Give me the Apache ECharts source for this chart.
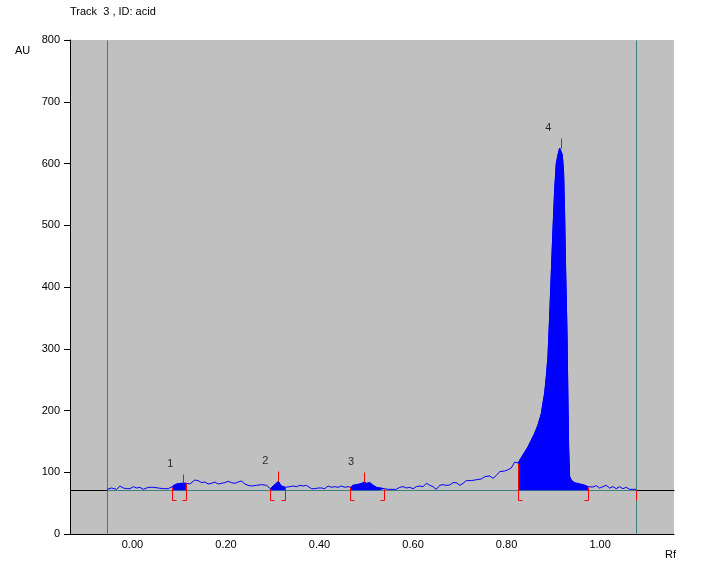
<!DOCTYPE html>
<html>
<head>
<meta charset="utf-8">
<script src="https://cdn.jsdelivr.net/npm/echarts@6/dist/echarts.min.js"></script>
<style>
html,body{margin:0;padding:0;background:#fff;}
#chart{width:704px;height:571px;}
</style>
</head>
<body>
<div id="chart"></div>
<script>
// ---- data ----
const titleText = 'Track  3 , ID: acid';
const xTickValues = [0, 0.2, 0.4, 0.6, 0.8, 1.0];
const yMin = 0, yMax = 800, yInterval = 100;
const xMin = -0.1335, xMax = 1.158;

const rf = [
  -0.054, -0.0516, -0.045, -0.041, -0.034, -0.0267, -0.0196, -0.0125, -0.0053, 0.0018,
  0.0089, 0.016, 0.0231, 0.0338, 0.0445, 0.0552, 0.0659, 0.0766,
  0.0851, 0.0908, 0.0979, 0.1051, 0.1086, 0.1143,
  0.1229, 0.1335, 0.1407, 0.1478, 0.1549, 0.1620, 0.1692, 0.1763, 0.1834, 0.1905,
  0.1976, 0.2048, 0.2119, 0.2190, 0.2261, 0.2333, 0.2404, 0.2475, 0.2546, 0.2653,
  0.2760, 0.2867,
  0.295, 0.301, 0.3066, 0.312, 0.3152, 0.3187, 0.3223, 0.3266,
  0.3294, 0.3365, 0.3437, 0.3508, 0.3579, 0.3650, 0.3722, 0.3757, 0.3828, 0.3900,
  0.3971, 0.4042, 0.4113, 0.4184, 0.4256, 0.4327, 0.4398, 0.4469, 0.4541, 0.4612,
  0.4662, 0.4719, 0.4790, 0.4861, 0.4911, 0.4954, 0.5004, 0.5075, 0.5146, 0.5217, 0.5288, 0.5381,
  0.5466, 0.5573, 0.5644, 0.5716, 0.5787, 0.5858, 0.5929, 0.6001, 0.6072, 0.6143,
  0.6214, 0.6286, 0.6357, 0.6428, 0.6499, 0.6570, 0.6642, 0.6713, 0.6784, 0.6855,
  0.6927, 0.6998, 0.7069, 0.7140, 0.7247, 0.7318, 0.7390, 0.7461, 0.7532, 0.7639,
  0.7710, 0.7781, 0.7853, 0.7959, 0.8031, 0.8102, 0.8173, 0.8209,
  0.8244, 0.8351, 0.8458, 0.8529, 0.8600, 0.8672, 0.8743, 0.8778, 0.8814, 0.8850,
  0.8885, 0.8921, 0.8956, 0.8992, 0.9028, 0.9063, 0.9099, 0.9135, 0.917, 0.9192,
  0.9220, 0.9241, 0.9263, 0.9291, 0.9313, 0.9327, 0.9348, 0.9384, 0.9455, 0.9562,
  0.9669, 0.974,
  0.9776, 0.9847, 0.9918, 0.9989, 1.0060, 1.0132, 1.0203, 1.0274, 1.0345, 1.0417,
  1.0488, 1.0559, 1.0630, 1.0701, 1.077
];
const au = [
  72.3, 74.5, 74.5, 72.3, 72.3, 77.7, 74.5, 73.4, 73.4, 76.7,
  74.5, 75.6, 72.3, 75.6, 75.6, 74.5, 73.4, 73.4,
  76.7, 79.9, 81.5, 82.1, 83.1, 82.1,
  81.0, 87.4, 86.4, 83.1, 84.2, 81.0, 82.1, 84.2, 81.0, 82.1,
  83.1, 85.3, 83.1, 82.1, 84.2, 85.8, 81.0, 78.8, 77.7, 78.8,
  79.9, 78.8,
  73.4, 77.7, 81.0, 85.3, 81.0, 77.7, 76.7, 75.6,
  75.6, 76.7, 77.7, 76.7, 78.8, 77.7, 78.8, 75.6, 73.4, 73.4,
  74.5, 74.5, 73.4, 77.7, 75.6, 76.7, 75.6, 77.7, 75.6, 76.7,
  75.6, 78.8, 79.9, 81.0, 82.1, 84.2, 82.1, 83.1, 78.8, 75.6, 74.5, 73.4,
  72.3, 72.3, 72.3, 75.6, 76.7, 74.5, 75.6, 73.4, 76.7, 77.7,
  76.7, 82.1, 78.8, 76.7, 72.3, 78.8, 79.9, 78.8, 79.4, 83.1,
  83.1, 78.8, 82.1, 86.5, 86.5, 87.4, 88.3, 89.2, 92.8, 94.0,
  90.1, 94.7, 101.0, 102.0, 104.0, 107.0, 116.5, 116.5,
  115.0, 128.0, 141.0, 152.0, 163.0, 176.5, 195.0, 212.0, 228.0, 255.0,
  287.0, 352.0, 422.0, 492.0, 557.0, 600.0, 614.0, 625.0, 625.0, 614.0,
  584.0, 519.0, 427.5, 330.0, 212.0, 141.0, 93.0, 87.0, 83.0, 81.0,
  79.0, 76.6,
  78.3, 76.1, 78.3, 74.4, 76.7, 78.8, 74.4, 76.7, 73.4, 76.7,
  73.4, 75.6, 72.3, 72.3, 72.3
];

const peakIds = ['1', '2', '3', '4'];
const peakStart = [0.0851, 0.295, 0.4662, 0.8244];
const peakEnd = [0.1143, 0.3266, 0.5381, 0.974];
const peakMaxRf = [0.1086, 0.312, 0.4954, 0.917];
const peakMarkTop = [97, 102, 100, 641];
const baselineAU = 71;
const scanStart = -0.054, scanEnd = 1.077;
const bracketBottom = 55;
const axisUnit = 'AU', xUnit = 'Rf';

// ---- build ----
const trace = rf.map((x, i) => [x, au[i]]);
const valueAt = x => au[rf.indexOf(x)];
const FONT = '"Liberation Sans", Arial, sans-serif';

const fillSeries = peakIds.map((id, k) => ({
  type: 'line',
  name: 'peak' + id,
  data: trace.filter(p => p[0] >= peakStart[k] && p[0] <= peakEnd[k]),
  symbol: 'none',
  lineStyle: {color: '#0000ff', width: 1},
  areaStyle: {color: '#0000ff', opacity: 1, origin: baselineAU},
  z: 3,
  silent: true,
  animation: false
}));

function px(v) { return Math.round(v) + 0.5; }

function lineEl(p1, p2, color) {
  return {type: 'line', shape: {x1: px(p1[0]), y1: px(p1[1]), x2: px(p2[0]), y2: px(p2[1])},
          style: {stroke: color, lineWidth: 1}};
}

const chart = echarts.init(document.getElementById('chart'));
chart.setOption({
  animation: false,
  backgroundColor: '#ffffff',
  grid: {left: 70, right: 30, top: 40, bottom: 37, show: true, backgroundColor: '#c0c0c0', borderWidth: 0},
  xAxis: {
    type: 'value', min: xMin, max: xMax,
    axisLine: {show: true, onZero: false, lineStyle: {color: '#000', width: 1}},
    axisTick: {show: false},
    splitLine: {show: false},
    axisLabel: {customValues: xTickValues, formatter: v => v.toFixed(2), color: '#000',
                fontSize: 11, fontFamily: FONT, margin: 5}
  },
  yAxis: {
    type: 'value', min: yMin, max: yMax, interval: yInterval,
    axisLine: {show: true, onZero: false, lineStyle: {color: '#000', width: 1}},
    axisTick: {show: true, length: 6, lineStyle: {color: '#000'}},
    splitLine: {show: false},
    axisLabel: {color: '#000', fontSize: 11, fontFamily: FONT, margin: 10}
  },
  graphic: [
    {type: 'text', left: 70, top: 6, style: {text: titleText, font: '11px ' + FONT, fill: '#000'}},
    {type: 'text', left: 15, top: 45, style: {text: axisUnit, font: '11px ' + FONT, fill: '#000'}},
    {type: 'text', left: 665, top: 549, style: {text: xUnit, font: '11px ' + FONT, fill: '#000'}}
  ],
  series: [
    {
      type: 'custom', z: 1, silent: true, clip: false,
      data: [[0, 0]],
      renderItem: function (params, api) {
        const c = (x, y) => api.coord([x, y]);
        const teal = '#408080';
        return {type: 'group', children: [
          lineEl(c(scanStart, yMin), c(scanStart, yMax), teal),
          lineEl(c(scanEnd, yMin), c(scanEnd, yMax), teal),
          lineEl(c(xMin, baselineAU), c(scanStart, baselineAU), '#000'),
          lineEl(c(scanStart, baselineAU), c(scanEnd, baselineAU), teal),
          lineEl(c(scanEnd, baselineAU), c(xMax, baselineAU), '#000')
        ]};
      }
    },
    ...fillSeries,
    {
      type: 'line', name: 'trace', data: trace, symbol: 'none', z: 4,
      lineStyle: {color: '#0000ff', width: 1}, silent: true
    },
    {
      type: 'custom', z: 5, silent: true, clip: false,
      data: peakIds.map((id, k) => [k]),
      renderItem: function (params, api) {
        const k = api.value(0);
        const c = (x, y) => api.coord([x, y]);
        const red = '#ff0000';
        const ch = [];
        ch.push(lineEl(c(peakMaxRf[k], valueAt(peakMaxRf[k])), c(peakMaxRf[k], peakMarkTop[k]), red));
        const s0 = c(peakStart[k], valueAt(peakStart[k])), s1 = c(peakStart[k], bracketBottom);
        ch.push(lineEl(s0, s1, red));
        ch.push(lineEl(s1, [s1[0] + 4, s1[1]], red));
        const e0 = c(peakEnd[k], valueAt(peakEnd[k])), e1 = c(peakEnd[k], bracketBottom);
        ch.push(lineEl(e0, e1, red));
        ch.push(lineEl(e1, [e1[0] - 4, e1[1]], red));
        if (k === peakIds.length - 1) {
          ch.push(lineEl(c(scanEnd, baselineAU), c(scanEnd, bracketBottom), red));
        }
        return {type: 'group', children: ch};
      }
    },
    {
      type: 'scatter', z: 6, silent: true, symbolSize: 0,
      data: peakIds.map((id, k) => [peakMaxRf[k], peakMarkTop[k], id]),
      label: {show: true, position: 'inside', offset: [-13, -10], formatter: p => p.value[2],
              color: '#000', fontSize: 11, fontFamily: FONT}
    }
  ]
});
</script>
</body>
</html>
